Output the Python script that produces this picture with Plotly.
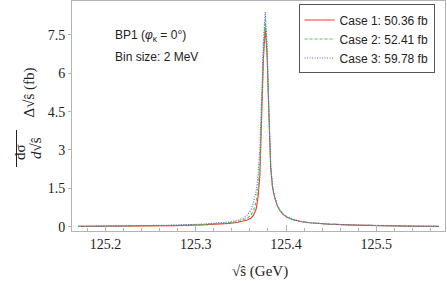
import plotly.graph_objects as go

# ---- data (2 MeV bins, sqrt(s_hat) in GeV) ----
x_vals = [125.170, 125.227, 125.277, 125.307, 125.327, 125.337, 125.347,
          125.353, 125.357, 125.361, 125.364, 125.367, 125.369, 125.371,
          125.373, 125.375, 125.377, 125.379, 125.381, 125.383, 125.385,
          125.387, 125.390, 125.393, 125.397, 125.401, 125.407, 125.417,
          125.427, 125.447, 125.477, 125.507, 125.537, 125.569]

case1 = [0.01, 0.02, 0.04, 0.07, 0.10, 0.13, 0.17,
         0.21, 0.26, 0.33, 0.45, 0.70, 1.15, 2.00,
         4.10, 6.60, 7.80, 6.70, 4.40, 2.30, 1.55,
         1.20, 0.85, 0.64, 0.47, 0.37, 0.28, 0.19,
         0.15, 0.10, 0.06, 0.03, 0.02, 0.01]

case2 = [0.01, 0.02, 0.05, 0.08, 0.12, 0.15, 0.20,
         0.26, 0.33, 0.45, 0.62, 1.00, 1.50, 2.40,
         4.50, 6.90, 8.10, 6.90, 4.50, 2.35, 1.55,
         1.20, 0.86, 0.65, 0.48, 0.38, 0.28, 0.19,
         0.15, 0.10, 0.06, 0.03, 0.02, 0.01]

case3 = [0.01, 0.03, 0.06, 0.10, 0.14, 0.18, 0.25,
         0.34, 0.46, 0.64, 0.95, 1.40, 2.00, 3.10,
         5.10, 7.30, 8.40, 7.10, 4.60, 2.40, 1.60,
         1.22, 0.87, 0.66, 0.48, 0.38, 0.29, 0.20,
         0.15, 0.10, 0.06, 0.03, 0.02, 0.01]

legend_names = ["Case 1: 50.36 fb", "Case 2: 52.41 fb", "Case 3: 59.78 fb"]

SERIF = "Liberation Serif"
SANS = "Liberation Sans"
FRAME = "#b3b3b3"

fig = go.Figure()
styles = [("#ff3333", "solid"), ("#33dd33", "3px,2px"), ("#5a5aff", "1px,1.5px")]
for ys, name, (col, dash) in zip([case1, case2, case3], legend_names, styles):
    fig.add_trace(go.Scatter(
        x=x_vals, y=ys, mode="lines", name=name,
        line=dict(color=col, width=1.1, dash=dash),
    ))

fig.update_layout(
    width=447, height=281,
    margin=dict(l=72, r=2, t=1, b=50),
    paper_bgcolor="white", plot_bgcolor="white",
    showlegend=True,
    legend=dict(
        x=0.972, xanchor="right", y=0.985, yanchor="top",
        bgcolor="white", bordercolor="#555555", borderwidth=1,
        font=dict(family=SANS, size=12, color="#222"),
        tracegroupgap=2, itemwidth=30,
    ),
    xaxis=dict(
        range=[125.163, 125.576],
        tick0=125.2, dtick=0.1, tickformat=".1f",
        ticks="inside", ticklen=6, tickcolor=FRAME,
        minor=dict(dtick=0.02, ticks="inside", ticklen=3, tickcolor=FRAME),
        showline=True, linecolor=FRAME, mirror=True,
        showgrid=False, zeroline=False,
        tickfont=dict(family=SERIF, size=14, color="#222"),
    ),
    yaxis=dict(
        range=[-0.17, 8.83],
        tick0=0, dtick=1.5,
        ticks="outside", ticklen=3, tickcolor=FRAME,
        showline=True, linecolor=FRAME, mirror=True,
        showgrid=False, zeroline=False,
        tickfont=dict(family=SERIF, size=14, color="#222"),
    ),
)

# text inside the plot
fig.add_annotation(xref="paper", yref="paper", x=0.11, y=0.85,
                   xanchor="left", yanchor="middle", showarrow=False,
                   text="BP1 (<i>φ</i><sub>κ</sub> = 0°)",
                   font=dict(family=SANS, size=12, color="#222"))
fig.add_annotation(xref="paper", yref="paper", x=0.11, y=0.757,
                   xanchor="left", yanchor="middle", showarrow=False,
                   text="Bin size: 2 MeV",
                   font=dict(family=SANS, size=12, color="#222"))

# x axis title
fig.add_annotation(xref="paper", yref="paper", x=0.505, y=-0.175,
                   xanchor="center", yanchor="middle", showarrow=False,
                   text="√ŝ (GeV)",
                   font=dict(family=SERIF, size=15, color="#222"))

# y axis title: fraction dσ / d√ŝ  times Δ√ŝ (fb)
def px_y(py):
    return 1 - (py - 1) / 230.0

def px_x(px):
    return (px - 72) / 373.0

fig.add_annotation(xref="paper", yref="paper", x=px_x(10), y=px_y(152),
                   textangle=-90, showarrow=False, text="dσ",
                   font=dict(family=SERIF, size=15, color="#222"))
fig.add_annotation(xref="paper", yref="paper", x=px_x(26), y=px_y(148),
                   textangle=-90, showarrow=False, text="<i>d</i>√ŝ",
                   font=dict(family=SERIF, size=15, color="#222"))
fig.add_annotation(xref="paper", yref="paper", x=px_x(19), y=px_y(92),
                   textangle=-90, showarrow=False, text="Δ√ŝ (fb)",
                   font=dict(family=SERIF, size=15, color="#222"))
fig.add_shape(type="line", xref="paper", yref="paper",
              x0=px_x(16.5), x1=px_x(16.5), y0=px_y(130), y1=px_y(167),
              line=dict(color="#222", width=1))

fig.write_html("out.html", config={"displayModeBar": False},
               post_script="document.body.style.margin='0';")
